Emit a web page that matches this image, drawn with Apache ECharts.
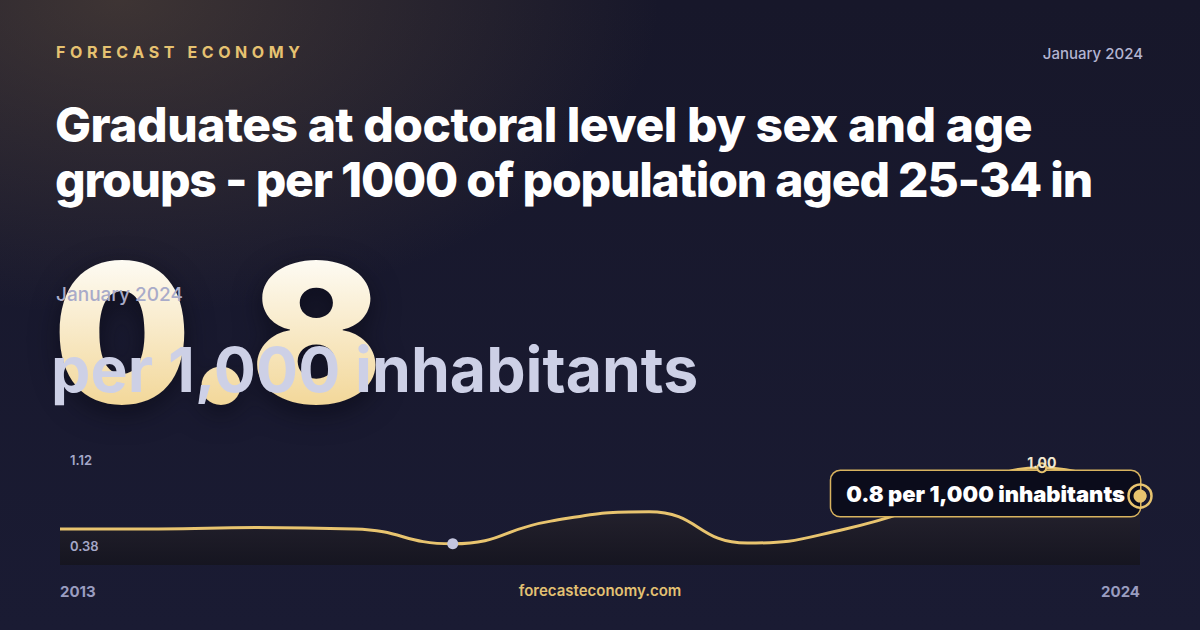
<!doctype html>
<html>
<head>
<meta charset="UTF-8">
<title>Graduates at doctoral level</title>
<script src="https://cdn.jsdelivr.net/npm/echarts@6/dist/echarts.min.js"></script>
<style>
	html, body { margin: 0; padding: 0; }
	body {
		width: 1200px; height: 630px; overflow: hidden; position: relative;
		font-family: Inter, "Noto Sans", sans-serif;
		background:
			radial-gradient(ellipse 720px 420px at 10% 0%, rgba(125, 100, 68, 0.38), rgba(125, 100, 68, 0) 75%),
			linear-gradient(180deg, #17172a 0%, #1a1b33 100%);
	}
	#main { position: absolute; left: 0; top: 0; width: 1200px; height: 630px; z-index: 1; }
	.txt { position: absolute; white-space: nowrap; z-index: 2; }
	.kicker { left: 56px; top: 42px; line-height: 20px; font-size: 16px; font-weight: 700; letter-spacing: 4.6px; color: #e6c271; }
	.date { right: 57px; top: 44px; line-height: 20px; font-size: 15px; font-weight: 500; color: #b3b5d1; }
	.title { left: 55px; top: 97px; line-height: 55px; font-size: 48px; font-weight: 800; color: #ffffff; }
	.title span { display: block; }
	.title .l1 { letter-spacing: -0.5px; }
	.title .l2 { letter-spacing: -1.2px; }
	.big {
		left: 53px; top: 236px; line-height: 194px; font-size: 194px; font-weight: 900;
		background: linear-gradient(180deg, #fefcf6 10%, #f2d696 90%);
		-webkit-background-clip: text; background-clip: text;
		-webkit-text-fill-color: transparent; color: transparent;
		filter: drop-shadow(0 8px 14px rgba(5, 5, 15, 0.55));
	}
	.sub-date { left: 56px; top: 283px; line-height: 24px; font-size: 19px; font-weight: 500; color: #a9abc9; }
	.unit { left: 51px; top: 334px; line-height: 70px; font-size: 62.5px; font-weight: 700; color: #cdd0e6; }
</style>
</head>
<body>
	<div class="txt kicker">FORECAST ECONOMY</div>
	<div class="txt date">January 2024</div>
	<div class="txt title"><span class="l1">Graduates at doctoral level by sex and age</span><span class="l2">groups - per 1000 of population aged 25-34 in</span></div>
	<div class="txt big" id="bigValue"></div>
	<div class="txt sub-date">January 2024</div>
	<div class="txt unit">per 1,000 inhabitants</div>
	<div id="main"></div>
	<script type="text/javascript">
		// 数据
		var years = ['2013','2014','2015','2016','2017','2018','2019','2020','2021','2022','2023','2024'];
		var values = [0.61, 0.61, 0.62, 0.61, 0.515, 0.66, 0.72, 0.52, 0.61, 0.80, 1.00, 0.82];
		var yRange = [0.38, 1.12];
		var unit = 'per 1,000 inhabitants';

		var gold = '#e8c46f';
		var last = values.length - 1;
		var latest = values[last].toFixed(1);
		document.getElementById('bigValue').textContent = latest;

		var myChart = echarts.init(document.getElementById('main'), null, { renderer: 'svg' });
		var option = {
			animation: false,
			textStyle: { fontFamily: 'Inter' },
			grid: { left: 60, right: 60, top: 449, bottom: 65 },
			xAxis: {
				type: 'category',
				data: years,
				boundaryGap: false,
				axisLine: { show: false },
				axisTick: { show: false },
				splitLine: { show: false },
				axisLabel: {
					interval: function (i) { return i === 0 || i === last; },
					color: '#9a9dc0', fontSize: 15, fontWeight: 700, margin: 19,
					alignMinLabel: 'left', alignMaxLabel: 'right'
				}
			},
			yAxis: {
				type: 'value', min: yRange[0], max: yRange[1], show: false
			},
			graphic: [
				{ type: 'text', left: 70, top: 453, z: 10,
					style: { text: yRange[1].toFixed(2), fill: '#a5a8c8', font: '600 13px Inter' } },
				{ type: 'text', left: 70, top: 539, z: 10,
					style: { text: yRange[0].toFixed(2), fill: '#a5a8c8', font: '600 13px Inter' } },
				{ type: 'text', left: 'center', top: 583, z: 10,
					style: { text: 'forecasteconomy.com', fill: '#e3c172', font: '600 15px Inter' } }
			],
			series: [
				{
					type: 'line',
					z: 2,
					data: values,
					smooth: true,
					symbol: 'none',
					lineStyle: { color: gold, width: 3 },
					areaStyle: {
						color: new echarts.graphic.LinearGradient(0, 0, 0, 1, [
							{ offset: 0, color: '#2f2a2c' },
							{ offset: 0.45, color: '#27232a' },
							{ offset: 1, color: '#141319' }
						])
					},
					markPoint: {
						data: [
							{ type: 'max', symbol: 'circle', symbolSize: 9,
								itemStyle: { color: '#1c1a28', borderColor: gold, borderWidth: 2 },
								label: { show: true, position: 'top', distance: -7, color: '#f1e9d2', fontSize: 14, fontWeight: 700,
									formatter: function (p) { return p.value.toFixed(2); } } },
							{ type: 'min', symbol: 'circle', symbolSize: 11,
								itemStyle: { color: '#c4c6de' },
								label: { show: false } }
						]
					}
				},
				{
					// 最新值标签
					type: 'scatter',
					z: 3,
					data: [[years[last], values[last]]],
					symbol: 'circle',
					symbolSize: 13,
					itemStyle: { color: gold, opacity: 1 },
					label: {
						show: true, position: 'left', distance: -6.5, offset: [0, -2.5],
						formatter: latest + ' ' + unit,
						backgroundColor: '#0b0c1b', borderColor: '#d8b35f', borderWidth: 1.5, borderRadius: 9,
						padding: [10, 15, 10, 15], lineHeight: 25,
						color: '#ffffff', fontSize: 22, fontWeight: 900, fontFamily: 'Inter'
					}
				},
				{
					type: 'scatter',
					z: 4,
					data: [[years[last], values[last]]],
					symbol: 'circle',
					symbolSize: 23,
					itemStyle: { color: 'rgba(0,0,0,0)', borderColor: gold, borderWidth: 2.5, opacity: 1 }
				},
				{
					type: 'scatter',
					z: 5,
					data: [[years[last], values[last]]],
					symbol: 'circle',
					symbolSize: 13,
					itemStyle: { color: gold, opacity: 1 }
				}
			]
		};
		myChart.setOption(option);
	</script>
</body>
</html>
